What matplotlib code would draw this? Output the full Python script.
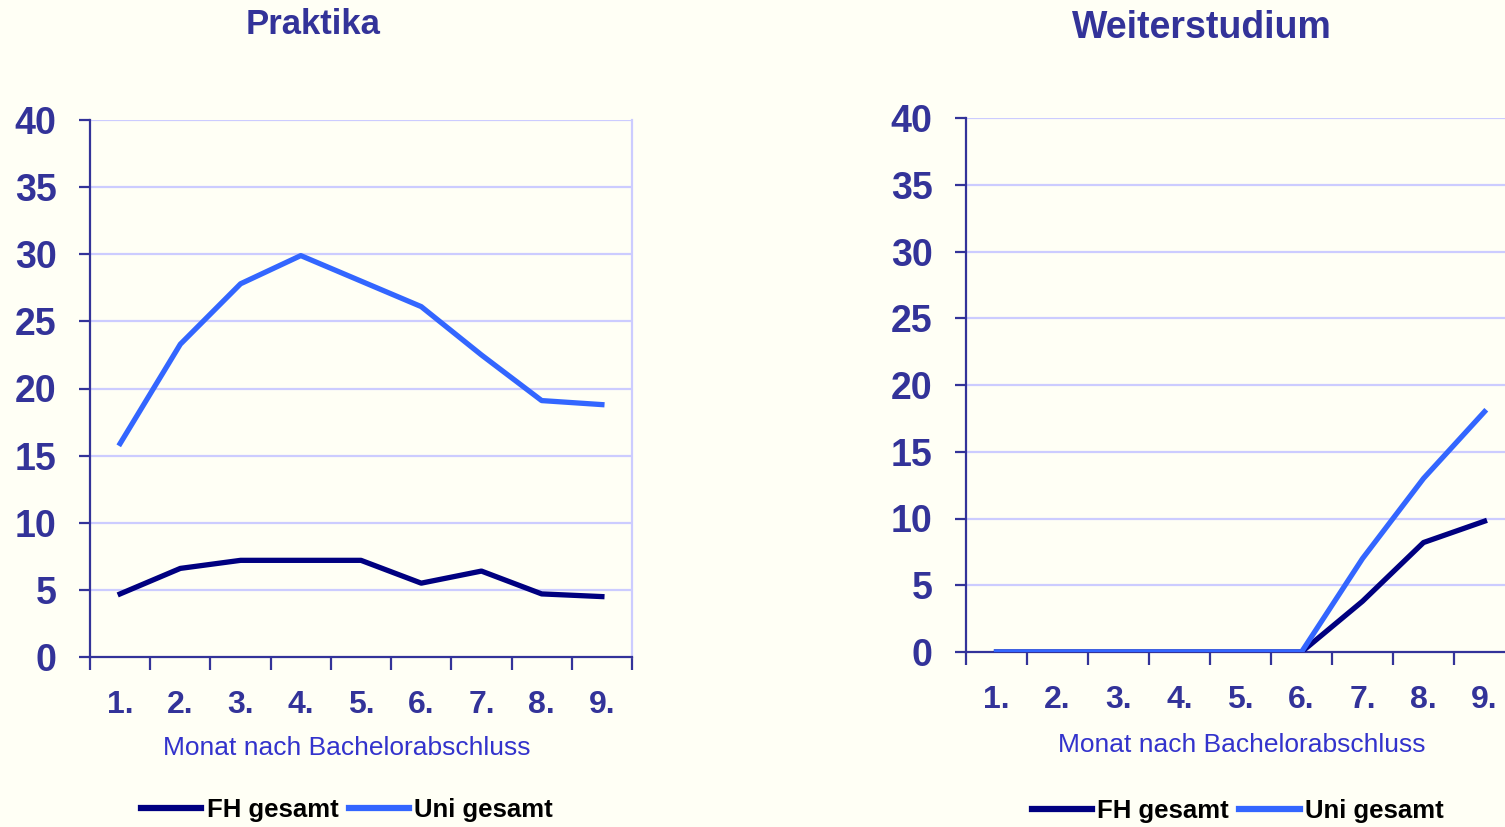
import matplotlib
matplotlib.use("Agg")
import matplotlib.pyplot as plt
from matplotlib.ticker import FixedLocator, NullFormatter, FixedFormatter

# data
months = ["1.", "2.", "3.", "4.", "5.", "6.", "7.", "8.", "9."]
praktika_fh = [4.7, 6.6, 7.2, 7.2, 7.2, 5.5, 6.4, 4.7, 4.5]
praktika_uni = [15.9, 23.3, 27.8, 29.9, 28.0, 26.1, 22.5, 19.1, 18.8]
studium_fh = [0, 0, 0, 0, 0, 0, 3.8, 8.2, 9.8]
studium_uni = [0, 0, 0, 0, 0, 0, 7.0, 13.0, 18.0]
y_ticks = [0, 5, 10, 15, 20, 25, 30, 35, 40]

BG = "#FFFFF5"
TEXT = "#333399"
GRID = "#CCCCFF"
FH_COLOR = "#000080"
UNI_COLOR = "#3366FF"
FONT = "Liberation Sans"

W, H = 1505, 827
fig = plt.figure(figsize=(W / 100, H / 100), dpi=100, facecolor=BG)


def px_axes(left, top, right, bottom):
    return fig.add_axes([left / W, 1 - bottom / H, (right - left) / W, (bottom - top) / H])


def style_panel(ax, fh, uni, label_xy, legend_xy):
    ax.set_facecolor(BG)
    xs = list(range(len(months)))
    ax.set_xlim(-0.5, len(months) - 0.5)
    ax.set_ylim(0, 40)
    for y in y_ticks[1:]:
        ax.axhline(y, color=GRID, lw=1.6, zorder=1)
    ax.plot(xs, fh, color=FH_COLOR, lw=3.8, label="FH gesamt", zorder=3)
    ax.plot(xs, uni, color=UNI_COLOR, lw=3.8, label="Uni gesamt", zorder=3)

    ax.spines["top"].set_visible(False)
    ax.spines["right"].set_color(GRID)
    ax.spines["right"].set_linewidth(1.6)
    for side in ("left", "bottom"):
        ax.spines[side].set_color(TEXT)
        ax.spines[side].set_linewidth(1.6)

    ax.set_yticks(y_ticks)
    ax.set_yticklabels([str(v) for v in y_ticks], fontsize=27, fontweight="bold",
                       color=TEXT, family=FONT)
    ax.tick_params(axis="y", direction="out", length=8, width=1.6, color=TEXT, pad=16)

    bounds = [i - 0.5 for i in range(len(months) + 1)]
    ax.xaxis.set_major_locator(FixedLocator(bounds))
    ax.xaxis.set_major_formatter(NullFormatter())
    ax.xaxis.set_minor_locator(FixedLocator(xs))
    ax.xaxis.set_minor_formatter(FixedFormatter(months))
    ax.tick_params(axis="x", which="major", direction="out", length=9, width=1.6, color=TEXT)
    ax.tick_params(axis="x", which="minor", length=0, pad=24, labelsize=23,
                   labelcolor=TEXT)
    for lbl in ax.get_xticklabels(minor=True):
        lbl.set_fontweight("bold")
        lbl.set_family(FONT)

    ax.set_xlabel("Monat nach Bachelorabschluss", fontsize=19, color="#3333CC",
                  family=FONT, va="center")
    ax.xaxis.set_label_coords(*label_xy)
    leg = ax.legend(loc="center", bbox_to_anchor=legend_xy, ncol=2, frameon=False,
                    handlelength=2.35, handletextpad=0.2, columnspacing=0.4,
                    prop={"family": FONT, "weight": "bold", "size": 18.5})
    for t in leg.get_texts():
        t.set_color("black")
    for h in leg.get_lines():
        h.set_linewidth(4.5)


ax1 = px_axes(90, 120, 632, 657)
style_panel(ax1, praktika_fh, praktika_uni, (0.474, -0.17), (0.474, -0.285))
ax2 = px_axes(966, 118, 1515, 652)
style_panel(ax2, studium_fh, studium_uni, (0.503, -0.174), (0.495, -0.298))

fig.text(313 / W, 1 - 24 / H, "Praktika", ha="center", va="center", fontsize=25,
         fontweight="bold", color=TEXT, family=FONT)
fig.text(1202 / W, 1 - 28 / H, "Weiterstudium", ha="center", va="center", fontsize=27,
         fontweight="bold", color=TEXT, family=FONT)

fig.savefig("out.png", dpi=100, facecolor=BG)
